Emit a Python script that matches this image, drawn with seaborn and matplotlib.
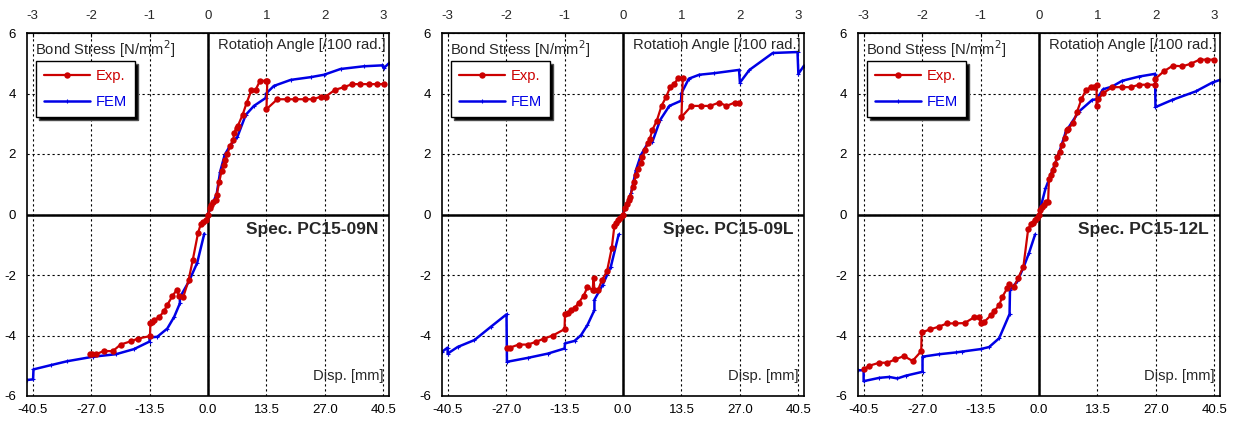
import pandas as pd
import seaborn as sns
import matplotlib.pyplot as plt
from matplotlib.lines import Line2D

# specimen names
specs = ['Spec. PC15-09N', 'Spec. PC15-09L', 'Spec. PC15-12L']

# ---- PC15-09N ----
exp1_x = [-27.2, -26.7, -25.9, -24.0, -22.0, -20.2, -17.8, -16.1, -13.4, -13.3, -13.0, -12.5, -11.3,
          -10.2, -9.4, -8.2, -7.2, -6.7, -5.7, -4.5, -3.5, -2.3, -1.7, -1.15, -0.5, 0.0,
          0.46, 0.8, 1.15, 1.8, 2.0, 2.6, 3.15, 3.7, 3.9, 4.5, 5.1, 5.85, 6.0, 6.6, 6.9, 8.0, 8.9,
          10.0, 11.0, 12.0, 13.3, 13.7, 13.5, 16.0, 18.2, 20.2, 22.3, 24.2, 26.2, 27.2, 29.3, 31.4,
          33.3, 35.2, 37.2, 39.0, 40.6]
exp1_y = [-4.6, -4.62, -4.62, -4.51, -4.52, -4.30, -4.19, -4.10, -4.02, -3.60, -3.54, -3.49, -3.40,
          -3.20, -2.99, -2.69, -2.49, -2.70, -2.72, -2.18, -1.49, -0.61, -0.33, -0.25, -0.17, 0.0,
          0.2, 0.3, 0.42, 0.48, 0.64, 1.08, 1.45, 1.64, 1.8, 2.0, 2.28, 2.46, 2.69, 2.87, 2.93, 3.3, 3.68,
          4.1, 4.12, 4.42, 4.42, 4.42, 3.48, 3.81, 3.81, 3.81, 3.81, 3.81, 3.9, 3.9, 4.12, 4.21,
          4.31, 4.31, 4.31, 4.31, 4.31]
fem1_neg_x = [-0.85, -2.5, -4.4, -6.5, -6.5, -7.8, -9.4, -11.7, -13.5, -13.5, -17.1, -21.3, -26.5,
              -32.5, -36.3, -40.3, -40.4, -41.8]
fem1_neg_y = [-0.63, -1.6, -2.21, -2.74, -2.94, -3.38, -3.77, -4.04, -4.07, -4.2, -4.45, -4.62, -4.7,
              -4.85, -4.98, -5.12, -5.45, -5.47]
fem1_pos_x = [0.0, 1.0, 2.0, 2.8, 3.85, 5.2, 6.8, 8.7, 10.6, 13.3, 13.5, 15.2, 19.1, 23.7, 26.8,
              30.6, 36.0, 40.2, 40.6, 41.8]
fem1_pos_y = [0.0, 0.35, 0.67, 1.41, 1.97, 2.3, 2.57, 3.29, 3.59, 3.85, 4.01, 4.25, 4.45, 4.54, 4.62,
              4.81, 4.9, 4.93, 4.84, 5.0]

# ---- PC15-09L ----
exp2_x = [-26.8, -26.1, -24.1, -22.0, -20.1, -18.2, -16.2, -13.5, -13.4, -12.8, -12.0, -11.2, -10.2,
          -9.1, -8.2, -7.0, -6.8, -6.6, -5.8, -4.9, -3.7, -2.6, -2.0, -1.6, -1.1, -0.6, 0.0,
          0.46, 0.85, 1.3, 1.7, 2.2, 2.6, 3.0, 3.5, 4.15, 4.5, 5.1, 5.7, 6.2, 6.8, 7.8, 8.9, 10.0,
          10.9, 11.8, 12.8, 13.8, 13.5, 15.8, 18.0, 20.1, 22.2, 23.9, 25.8, 26.8]
exp2_y = [-4.4, -4.4, -4.3, -4.3, -4.21, -4.1, -4.0, -3.79, -3.29, -3.26, -3.15, -3.1, -2.91,
          -2.69, -2.4, -2.49, -2.1, -2.49, -2.51, -2.18, -1.88, -1.11, -0.39, -0.28, -0.19, -0.11, 0.0,
          0.2, 0.34, 0.48, 0.59, 0.92, 1.08, 1.3, 1.52, 1.69, 1.91, 2.13, 2.35, 2.5, 2.8, 3.1, 3.59, 3.9,
          4.21, 4.32, 4.51, 4.51, 3.22, 3.59, 3.59, 3.59, 3.7, 3.59, 3.7, 3.7]
fem2_neg_x = [-1.0, -2.8, -4.7, -6.6, -6.6, -8.2, -9.7, -11.2, -13.4, -13.5, -17.4, -22.0, -26.8,
              -26.9, -30.5, -34.3, -38.2, -40.5, -40.5, -41.8]
fem2_neg_y = [-0.66, -1.72, -2.33, -2.82, -3.16, -3.65, -3.99, -4.18, -4.26, -4.43, -4.6, -4.74, -4.87,
              -3.3, -3.71, -4.15, -4.38, -4.6, -4.4, -4.54]
fem2_pos_x = [0.0, 1.85, 3.0, 4.15, 5.7, 6.8, 8.6, 10.7, 13.4, 13.5, 15.2, 17.6, 21.0, 26.8, 27.0,
              29.2, 34.6, 40.3, 40.5, 41.8]
fem2_pos_y = [0.0, 0.7, 1.47, 1.97, 2.35, 2.41, 3.13, 3.59, 3.76, 4.01, 4.49, 4.62, 4.67, 4.78, 4.36,
              4.78, 5.34, 5.37, 4.65, 4.92]

# ---- PC15-12L ----
exp3_x = [-40.5, -39.2, -36.9, -35.0, -33.2, -31.2, -29.2, -27.2, -27.1, -25.2, -23.2, -21.2, -19.4,
          -17.2, -15.0, -13.8, -13.4, -12.7, -11.1, -10.4, -9.2, -8.5, -7.3, -6.9, -5.8, -4.8, -3.6,
          -2.5, -1.9, -1.4, -0.9, -0.4, 0.0,
          0.23, 0.77, 1.15, 1.7, 2.1, 2.3, 2.7, 3.2, 3.7, 4.2, 4.8, 5.4, 5.9, 6.4, 6.7, 7.9, 8.8, 9.8,
          10.8, 11.9, 12.7, 13.3, 13.3, 13.7, 14.8, 16.9, 19.1, 21.2, 23.1, 25.0, 26.9, 26.9, 28.8,
          30.9, 33.1, 35.0, 37.1, 38.8, 40.4]
exp3_y = [-5.12, -5.0, -4.9, -4.9, -4.79, -4.68, -4.84, -4.52, -3.9, -3.8, -3.71, -3.6, -3.6,
          -3.59, -3.4, -3.4, -3.59, -3.56, -3.33, -3.2, -3.0, -2.73, -2.43, -2.29, -2.4, -2.1, -1.72,
          -0.48, -0.33, -0.28, -0.19, -0.11, 0.0,
          0.14, 0.25, 0.31, 0.42, 0.42, 1.16, 1.3, 1.47, 1.66, 1.91, 2.08, 2.3, 2.52, 2.8, 2.83, 3.02, 3.4, 3.81,
          4.1, 4.21, 4.21, 4.29, 3.59, 3.81, 4.01, 4.21, 4.21, 4.21, 4.29, 4.29, 4.29, 4.49, 4.73,
          4.92, 4.9, 4.98, 5.12, 5.12, 5.12]
fem3_neg_x = [-0.9, -2.3, -3.5, -5.0, -6.7, -6.8, -9.2, -11.5, -13.5, -17.7, -19.2, -23.1, -26.9,
              -26.9, -30.8, -32.7, -34.6, -36.9, -40.5, -40.5, -41.8]
fem3_neg_y = [-0.66, -1.27, -1.72, -2.21, -2.49, -3.29, -4.09, -4.38, -4.45, -4.53, -4.56, -4.62, -4.7,
              -5.2, -5.33, -5.42, -5.37, -5.4, -5.51, -5.15, -5.15]
fem3_pos_x = [0.0, 0.4, 1.5, 2.7, 4.6, 6.2, 9.2, 12.3, 13.3, 14.8, 16.9, 19.2, 23.1, 26.8, 26.9,
              30.8, 36.2, 40.0, 41.8]
fem3_pos_y = [0.0, 0.25, 0.86, 1.3, 2.02, 2.74, 3.4, 3.79, 3.81, 4.14, 4.23, 4.42, 4.56, 4.65, 3.55,
              3.79, 4.07, 4.36, 4.45]

exp_data = [(exp1_x, exp1_y), (exp2_x, exp2_y), (exp3_x, exp3_y)]
fem_data = [(fem1_neg_x, fem1_neg_y, fem1_pos_x, fem1_pos_y),
            (fem2_neg_x, fem2_neg_y, fem2_pos_x, fem2_pos_y),
            (fem3_neg_x, fem3_neg_y, fem3_pos_x, fem3_pos_y)]

disp_ticks = [-40.5, -27.0, -13.5, 0.0, 13.5, 27.0, 40.5]
rot_ticks = [-3, -2, -1, 0, 1, 2, 3]
y_ticks = [-6, -4, -2, 0, 2, 4, 6]

RED = '#CC0000'
BLUE = '#0000E6'

sns.set_style('white')
plt.rcParams['font.family'] = ['Liberation Sans', 'DejaVu Sans']
plt.rcParams['axes.unicode_minus'] = False

fig = plt.figure(figsize=(12.39, 4.24), dpi=100)
lefts = [27, 442, 858]

# seaborn paints marker edges white by default, so set them explicitly
fem_kw = dict(color=BLUE, linewidth=1.8, linestyle='-', marker='+', markersize=3,
              markeredgewidth=0.8, markeredgecolor=BLUE, estimator=None, sort=False)
exp_kw = dict(color=RED, linewidth=1.6, linestyle='-', marker='o', markersize=4.6,
              markeredgewidth=0, markeredgecolor=RED, estimator=None, sort=False)

for i in range(3):
    ax = fig.add_axes([lefts[i] / 1239, 1 - 396 / 424, 362 / 1239, 363 / 424])

    nx, ny, px, py = fem_data[i]
    sns.lineplot(x=nx, y=ny, ax=ax, **fem_kw)
    sns.lineplot(x=px, y=py, ax=ax, **fem_kw)
    sns.lineplot(x=exp_data[i][0], y=exp_data[i][1], ax=ax, **exp_kw)

    ax.set_xlim(-41.8, 41.8)
    ax.set_ylim(-6, 6)
    ax.set_xticks(disp_ticks)
    ax.set_xticklabels([f'{t:.1f}' for t in disp_ticks])
    ax.set_yticks(y_ticks)
    ax.set_xlabel('')
    ax.set_ylabel('')
    ax.grid(True, color='black', linestyle=(0, (2, 2.5)), linewidth=0.8)
    ax.axhline(0, color='black', lw=1.8, zorder=1.5)
    ax.axvline(0, color='black', lw=1.8, zorder=1.5)
    for s in ax.spines.values():
        s.set_color('black')
        s.set_linewidth(1.2)
    ax.tick_params(axis='x', labelsize=9.5, length=3, direction='in', pad=6, colors='black')
    ax.tick_params(axis='y', labelsize=9.5, length=3, direction='in', pad=8, colors='black')

    top = ax.secondary_xaxis('top', functions=(lambda v: v / 13.5, lambda v: v * 13.5))
    top.set_xticks(rot_ticks)
    top.tick_params(labelsize=9.5, length=3, direction='in', pad=8)

    ax.text(0.022, 0.985, 'Bond Stress [N/mm$^2$]', transform=ax.transAxes,
            ha='left', va='top', fontsize=10.6)
    ax.text(0.99, 0.985, 'Rotation Angle [/100 rad.]', transform=ax.transAxes,
            ha='right', va='top', fontsize=10.6)
    ax.text(0.97, 0.46, specs[i], transform=ax.transAxes, ha='right', va='center',
            fontsize=12.5, fontweight='bold')
    ax.text(0.985, 0.055, 'Disp. [mm]', transform=ax.transAxes, ha='right', va='center',
            fontsize=10.6)

    handles = [Line2D([], [], color=RED, lw=1.6, marker='o', markersize=4.6, markeredgewidth=0),
               Line2D([], [], color=BLUE, lw=1.8, marker='+', markersize=3, markeredgewidth=0.8)]
    leg = ax.legend(handles, ['Exp.', 'FEM'], loc='upper left', bbox_to_anchor=(0.025, 0.923),
                    borderaxespad=0, fontsize=10.6, labelcolor=[RED, BLUE], handlelength=3.1,
                    handletextpad=0.4, labelspacing=0.8, borderpad=0.55,
                    frameon=True, fancybox=False, framealpha=1, edgecolor='black',
                    shadow={'facecolor': 'black', 'alpha': 1})
    leg.get_frame().set_linewidth(1.0)

fig.savefig('out.png', dpi=100)
